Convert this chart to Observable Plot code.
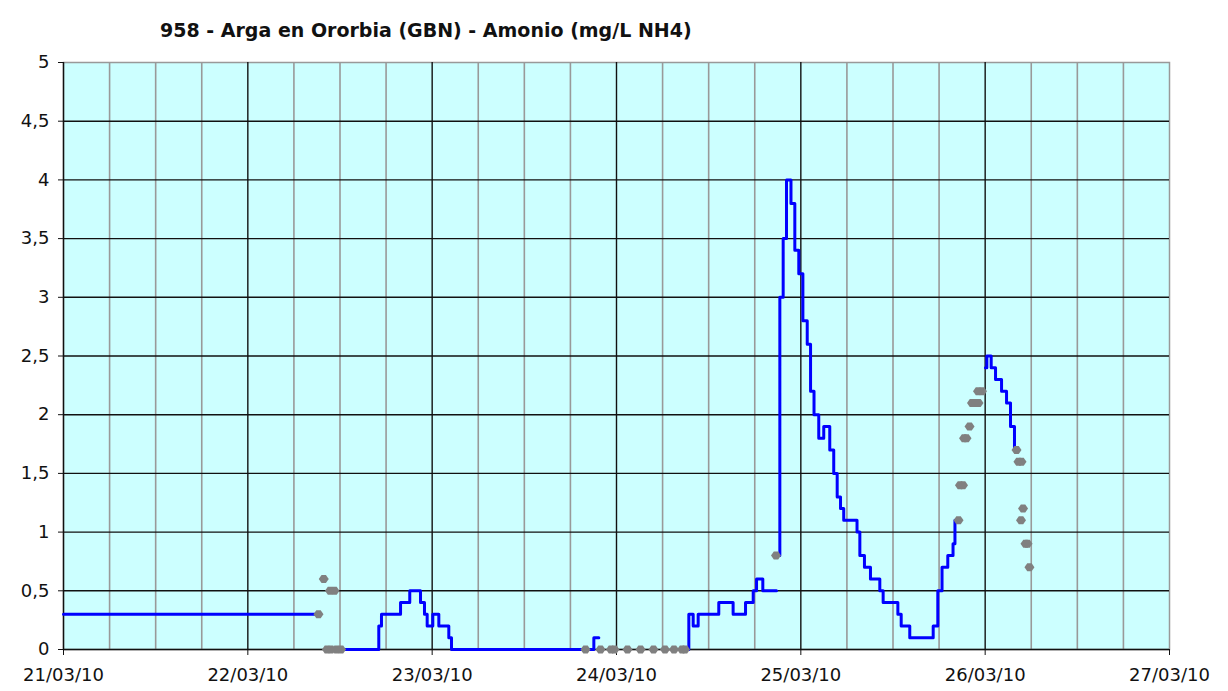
<!DOCTYPE html>
<html><head><meta charset="utf-8">
<script src="https://cdn.jsdelivr.net/npm/d3@7"></script>
<script src="https://cdn.jsdelivr.net/npm/@observablehq/plot@0.6"></script>
<style>
body{margin:0;background:#fff;font-family:"DejaVu Sans",Verdana,sans-serif;}
#title{height:48px;box-sizing:border-box;padding-left:160px;padding-top:21px;font-size:19px;line-height:19px;font-weight:bold;color:#111;white-space:nowrap;}
#chart svg{display:block;}
</style></head><body>
<div id="title"></div>
<div id="chart"></div>
<script>
const titleText = "958 - Arga en Ororbia (GBN) - Amonio (mg/L NH4)";
const dayTicks = ["2010-03-21 00:00","2010-03-22 00:00","2010-03-23 00:00","2010-03-24 00:00","2010-03-25 00:00","2010-03-26 00:00","2010-03-27 00:00"];
const yTicks = [0,0.5,1,1.5,2,2.5,3,3.5,4,4.5,5];

const blueTimes = [
"2010-03-21 00:00","2010-03-22 08:52","2010-03-22 10:00",
"2010-03-22 12:17","2010-03-22 17:03","2010-03-22 17:24","2010-03-22 19:53","2010-03-22 21:05","2010-03-22 22:29","2010-03-22 23:00","2010-03-22 23:21","2010-03-23 00:05","2010-03-23 00:52","2010-03-23 02:10","2010-03-23 02:31","2010-03-23 21:03","2010-03-23 21:42","2010-03-24 00:00",
"2010-03-24 09:19","2010-03-24 09:25","2010-03-24 09:59","2010-03-24 10:38","2010-03-24 13:19","2010-03-24 15:11","2010-03-24 16:48","2010-03-24 17:48","2010-03-24 18:14","2010-03-24 19:03","2010-03-24 20:50","2010-03-24 21:00",
"2010-03-24 21:10","2010-03-24 21:16","2010-03-24 21:42","2010-03-24 22:08","2010-03-24 22:43","2010-03-24 23:13","2010-03-24 23:44","2010-03-25 00:16","2010-03-25 00:50","2010-03-25 01:16","2010-03-25 01:43","2010-03-25 02:20","2010-03-25 02:59","2010-03-25 03:46","2010-03-25 04:17","2010-03-25 04:44","2010-03-25 05:10","2010-03-25 05:35","2010-03-25 07:19","2010-03-25 07:41","2010-03-25 08:17","2010-03-25 09:04","2010-03-25 10:17","2010-03-25 10:43","2010-03-25 12:38","2010-03-25 13:04","2010-03-25 14:11","2010-03-25 17:14","2010-03-25 17:50","2010-03-25 18:23","2010-03-25 19:08","2010-03-25 19:49","2010-03-25 20:04","2010-03-25 20:16","2010-03-25 22:00",
"2010-03-26 00:02","2010-03-26 00:13","2010-03-26 00:47","2010-03-26 01:21","2010-03-26 02:08","2010-03-26 02:47","2010-03-26 03:18","2010-03-26 03:49","2010-03-26 04:01"
];
const blueValues = [
0.3,0.3,null,
0,0.2,0.3,0.4,0.5,0.4,0.3,0.2,0.3,0.2,0.1,0,0.1,0.1,null,
0,0.3,0.2,0.3,0.4,0.3,0.4,0.5,0.6,0.5,0.5,null,
0.8,3.0,3.5,4.0,3.8,3.4,3.2,2.8,2.6,2.2,2.0,1.8,1.9,1.7,1.5,1.3,1.2,1.1,1.0,0.8,0.7,0.6,0.5,0.4,0.3,0.2,0.1,0.2,0.5,0.7,0.8,0.9,1.1,1.1,null,
2.4,2.5,2.4,2.3,2.2,2.1,1.9,1.7,1.7
];

const grayTimes = [
"2010-03-22 09:12","2010-03-22 09:53","2010-03-22 10:42","2010-03-22 11:17","2010-03-22 10:18","2010-03-22 10:50","2010-03-22 11:33","2010-03-22 12:08",
"2010-03-23 19:58","2010-03-23 21:55","2010-03-23 23:17","2010-03-23 23:44","2010-03-24 01:26","2010-03-24 03:08","2010-03-24 04:49","2010-03-24 06:19","2010-03-24 07:29","2010-03-24 08:32","2010-03-24 08:55",
"2010-03-24 20:46",
"2010-03-25 20:32","2010-03-25 20:43","2010-03-25 21:07","2010-03-25 21:15","2010-03-25 21:34","2010-03-25 21:58","2010-03-25 22:17","2010-03-25 22:44","2010-03-25 23:08","2010-03-25 23:04","2010-03-25 23:35",
"2010-03-26 04:05","2010-03-26 04:20","2010-03-26 04:44","2010-03-26 04:56","2010-03-26 04:40","2010-03-26 05:15","2010-03-26 05:31","2010-03-26 05:46"
];
const grayValues = [
0.3,0.6,0.5,0.5,0,0,0,0,
0,0,0,0,0,0,0,0,0,0,0,
0.8,
1.1,1.4,1.4,1.8,1.8,1.9,2.1,2.1,2.1,2.2,2.2,
1.7,1.6,1.6,1.2,1.1,0.9,0.9,0.7
];

document.getElementById("title").textContent = titleText;

const parse = d3.utcParse("%Y-%m-%d %H:%M");
const days = dayTicks.map(parse);
const blue = blueTimes.map((t, i) => ({t: parse(t), v: blueValues[i]}));
const gray = grayTimes.map((t, i) => ({t: parse(t), v: grayValues[i]}));
const minor = d3.utcHour.every(6).range(days[0], days[days.length - 1]).filter(d => d.getUTCHours() !== 0);
const innerDays = days.slice(0, days.length - 1);
const hLines = yTicks.filter(v => v < 5);

const hexMarker = {
  draw(ctx) {
    ctx.moveTo(-5, 0); ctx.lineTo(-2.2, -4); ctx.lineTo(2.2, -4); ctx.lineTo(5, 0);
    ctx.lineTo(2.2, 4); ctx.lineTo(-2.2, 4); ctx.closePath();
  }
};

const chart = Plot.plot({
  width: 1228,
  height: 643,
  marginTop: 14,
  marginBottom: 42,
  marginLeft: 63,
  marginRight: 59,
  style: {fontFamily: "'DejaVu Sans', Verdana, sans-serif", fontSize: "18px", background: "#fff", color: "#111", overflow: "visible"},
  x: {type: "utc", domain: [days[0], days[days.length - 1]]},
  y: {domain: [0, 5]},
  marks: [
    Plot.frame({fill: "#ccffff", stroke: "#999", strokeWidth: 1.5}),
    Plot.ruleX(minor, {stroke: "#999", strokeWidth: 1.6}),
    Plot.ruleY(hLines, {stroke: "#111", strokeWidth: 1.4}),
    Plot.ruleX(innerDays, {stroke: "#111", strokeWidth: 1.4}),
    Plot.axisX({ticks: days, tickFormat: d3.utcFormat("%d/%m/%y"), tickSize: 6, tickPadding: 13, label: null}),
    Plot.axisY({ticks: yTicks, tickFormat: d => String(d).replace(".", ","), tickSize: 5, tickPadding: 9, label: null}),
    Plot.line(blue, {x: "t", y: "v", curve: "step-after", stroke: "#0000ff", strokeWidth: 3}),
    Plot.dot(gray, {x: "t", y: "v", symbol: hexMarker, fill: "#808080", stroke: "none"})
  ]
});
document.getElementById("chart").appendChild(chart);
</script>
</body></html>
